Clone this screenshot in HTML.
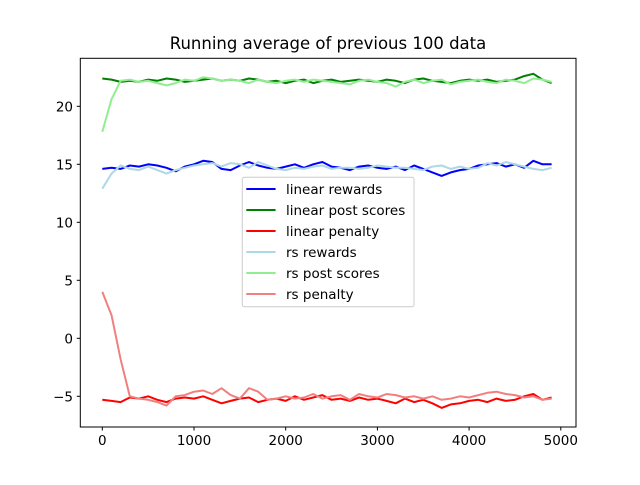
<!DOCTYPE html>
<html><head><meta charset="utf-8"><style>
body{margin:0;background:#fff}
svg text{font-family:"DejaVu Sans","Liberation Sans",sans-serif;fill:#000}
</style></head><body>
<svg id="chart" width="640" height="480" xmlns="http://www.w3.org/2000/svg">
<rect width="640" height="480" fill="#fff"/>
<text x="328" y="49" font-size="16.5" text-anchor="middle">Running average of previous 100 data</text>
<g id="plot"></g>
<rect x="80.3" y="58.3" width="495.7" height="368.7" fill="none" stroke="#000" stroke-width="1"/>
<g id="ticks"></g>
<g id="legend"></g>
</svg>
<script>
const xTicks=[0,1000,2000,3000,4000,5000];
const yTicks=[-5,0,5,10,15,20];
const seriesNames=["linear rewards","linear post scores","linear penalty","rs rewards","rs post scores","rs penalty"];
const seriesColors=["#0000ff","#008000","#ff0000","#add8e6","#90ee90","#f08080"];
const linearRewards=[14.6,14.7,14.6,14.9,14.8,15.0,14.9,14.7,14.4,14.8,15.0,15.3,15.2,14.6,14.5,14.9,15.2,14.9,14.7,14.6,14.8,15.0,14.7,15.0,15.2,14.8,14.7,14.5,14.8,14.9,14.7,14.6,14.8,14.5,14.9,14.6,14.3,14.0,14.3,14.5,14.6,14.9,15.0,15.1,14.8,15.0,14.7,15.3,15.0,15.0];
const linearPost=[22.4,22.3,22.1,22.2,22.1,22.3,22.2,22.4,22.3,22.1,22.2,22.3,22.4,22.2,22.3,22.2,22.4,22.3,22.1,22.2,22.0,22.2,22.3,22.0,22.2,22.3,22.1,22.2,22.3,22.2,22.1,22.3,22.2,22.0,22.3,22.4,22.2,22.1,22.0,22.2,22.3,22.2,22.3,22.1,22.2,22.3,22.6,22.8,22.3,22.0];
const linearPenalty=[-5.3,-5.4,-5.5,-5.1,-5.2,-5.0,-5.3,-5.5,-5.2,-5.1,-5.2,-5.0,-5.3,-5.6,-5.4,-5.2,-5.1,-5.5,-5.3,-5.2,-5.4,-5.0,-5.3,-5.1,-4.9,-5.3,-5.2,-5.4,-5.1,-5.3,-5.2,-5.4,-5.6,-5.2,-5.5,-5.3,-5.6,-6.0,-5.7,-5.6,-5.4,-5.3,-5.5,-5.2,-5.4,-5.3,-5.0,-4.8,-5.3,-5.1];
const rsRewards=[12.9,14.2,14.9,14.6,14.5,14.8,14.5,14.2,14.5,14.7,14.9,15.0,15.1,14.8,15.1,15.0,14.7,15.2,14.9,14.6,14.5,14.7,14.6,14.8,14.9,14.6,14.7,14.7,14.6,14.7,14.9,14.8,14.7,14.7,14.6,14.5,14.8,14.9,14.6,14.8,14.6,14.7,15.1,14.9,15.2,15.0,14.8,14.6,14.5,14.7];
const rsPost=[17.8,20.6,22.2,22.3,22.1,22.2,22.0,21.8,22.0,22.3,22.2,22.5,22.4,22.2,22.3,22.2,22.0,22.3,22.1,22.0,22.2,22.3,22.1,22.3,22.2,22.1,22.0,21.9,22.2,22.3,22.1,22.0,21.7,22.1,22.3,22.0,22.2,22.3,21.9,22.1,22.2,22.3,22.1,22.0,22.3,22.2,22.0,22.4,22.3,22.1];
const rsPenalty=[4.0,2.0,-1.8,-5.0,-5.2,-5.3,-5.5,-5.8,-5.0,-4.9,-4.6,-4.5,-4.8,-4.3,-4.9,-5.2,-4.3,-4.6,-5.3,-5.2,-5.0,-5.2,-5.1,-4.8,-5.2,-5.0,-4.9,-5.3,-4.8,-5.0,-5.1,-4.8,-4.9,-5.1,-5.0,-5.2,-5.0,-5.3,-5.2,-5.0,-5.1,-4.9,-4.7,-4.6,-4.8,-4.9,-5.1,-5.0,-5.3,-5.2];
const xStep=100;

const NS="http://www.w3.org/2000/svg";
function xs(v){return 102.3+v*0.0917;}
function ys(v){return 338.3-v*11.6;}
function mk(t,a,p){const e=document.createElementNS(NS,t);for(const k in a)e.setAttribute(k,a[k]);p.appendChild(e);return e;}
const plot=document.getElementById('plot');
const allSeries=[linearRewards,linearPost,linearPenalty,rsRewards,rsPost,rsPenalty];
const keys=["linear-rewards","linear-post-scores","linear-penalty","rs-rewards","rs-post-scores","rs-penalty"];
allSeries.forEach((s,i)=>{
  const d=s.map((v,j)=>(j?'L':'M')+xs(j*xStep).toFixed(1)+','+ys(v).toFixed(1)).join(' ');
  const p=mk('path',{d:d,fill:'none',stroke:seriesColors[i],'stroke-width':2,'stroke-linejoin':'round'},plot);
  
  
});
const tk=document.getElementById('ticks');
xTicks.forEach(v=>{
  const x=xs(v);
  mk('line',{x1:x,x2:x,y1:427,y2:430.5,stroke:'#000'},tk);
  const t=mk('text',{x:x,y:445,'font-size':13.5,'text-anchor':'middle'},tk);
  t.textContent=v;
  
  
});
yTicks.forEach(v=>{
  const y=ys(v);
  mk('line',{x1:76.8,x2:80.3,y1:y,y2:y,stroke:'#000'},tk);
  const t=mk('text',{x:73,y:y+5,'font-size':13.5,'text-anchor':'end'},tk);
  t.textContent=v<0?'\u2212'+(-v):v;
  
  
});
const lg=document.getElementById('legend');
mk('rect',{x:242.3,y:177.3,width:171.7,height:129.4,rx:2,fill:'#fff','fill-opacity':0.8,stroke:'#ccc'},lg);
seriesNames.forEach((n,i)=>{
  const y=189+i*21;
  const l=mk('line',{x1:246.3,x2:275.6,y1:y,y2:y,stroke:seriesColors[i],'stroke-width':2},lg);
  
  
  const t=mk('text',{x:286,y:y+5,'font-size':13.5},lg);
  t.textContent=n;
  
  
});
</script>
</body></html>
